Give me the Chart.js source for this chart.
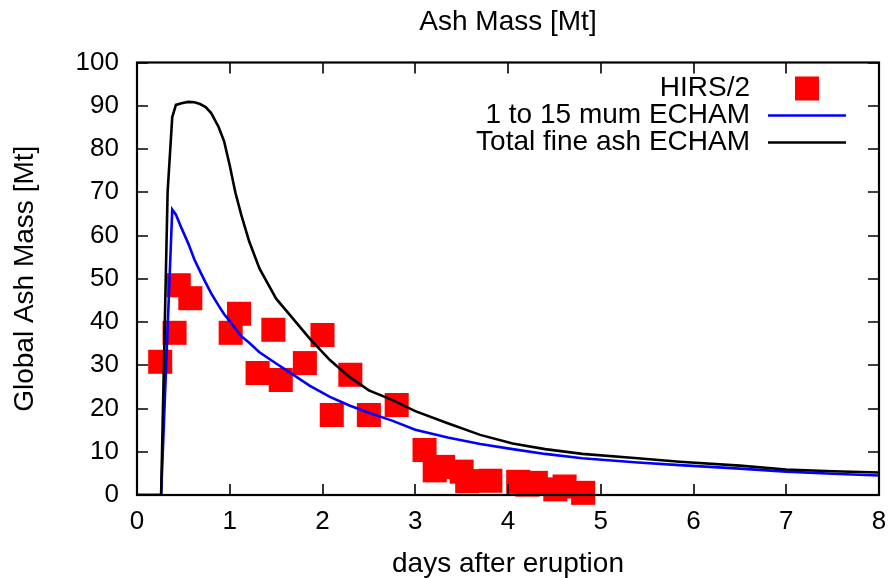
<!DOCTYPE html>
<html>
<head>
<meta charset="utf-8">
<title>Ash Mass</title>
<script src="https://cdn.jsdelivr.net/npm/chart.js@4.4.1/dist/chart.umd.min.js"></script>
<style>
  body { margin: 0; background: #fff; }
  canvas { display: block; }
</style>
</head>
<body>
<canvas id="graficoCinzas" width="891" height="578"></canvas>
<script>
// DADOS
// observações de satélite (HIRS/2)
const hirsDias = [0.25, 0.405, 0.45, 0.575, 1.01, 1.10, 1.30, 1.47, 1.55, 1.81, 2.00, 2.10, 2.30, 2.50, 2.80,
  3.10, 3.21, 3.30, 3.50, 3.56, 3.81, 4.11, 4.21, 4.30, 4.51, 4.61, 4.81];
const hirsMassa = [30.8, 37.5, 48.5, 45.5, 37.5, 41.9, 28.2, 38.2, 26.6, 30.5, 37.0, 18.5, 27.8, 18.5, 20.8,
  10.4, 5.7, 6.5, 5.4, 3.2, 3.3, 3.05, 2.4, 2.8, 1.3, 1.96, 0.5];

// saída do modelo ECHAM
const echamDias = [0, 0.26, 0.3, 0.33, 0.38, 0.42, 0.48, 0.55, 0.62, 0.68, 0.74, 0.8, 0.88, 0.94, 1.0,
  1.06, 1.125, 1.21, 1.32, 1.5, 1.65, 1.86, 2.08, 2.29, 2.5, 2.75, 3.0, 3.35, 3.7, 4.05,
  4.4, 4.8, 5.4, 5.85, 6.5, 7.0, 7.5, 8.0];
const massa1a15 = [0, 0, 22, 38.5, 66, 64.8, 61.7, 58.3, 54.4, 51.7, 49.1, 46.6, 43.8, 41.8, 40.2,
  38.5, 36.7, 35.2, 33.0, 30.4, 28.3, 25.3, 22.7, 20.7, 19.0, 17.2, 15.1, 13.3, 11.8, 10.6,
  9.5, 8.5, 7.5, 6.9, 6.1, 5.4, 4.9, 4.5];
const massaTotalFina = [0, 0, 40, 70, 87.4, 90.2, 90.6, 90.9, 90.8, 90.4, 89.7, 88.3, 85.1, 81.7, 76.2,
  70, 64.7, 58.6, 52.4, 45.4, 41.6, 36.2, 31.2, 27.3, 24.2, 22.0, 19.4, 16.6, 13.9, 11.9,
  10.6, 9.5, 8.5, 7.7, 6.8, 5.9, 5.5, 5.2];

const rotulos = ["HIRS/2", "1 to 15 mum ECHAM", "Total fine ash ECHAM"];
const tituloGrafico = "Ash Mass [Mt]";
const tituloX = "days after eruption";
const tituloY = "Global Ash Mass [Mt]";

const fonte = '"Liberation Sans", Arial, sans-serif';

function pares(xs, ys) {
  return xs.map((x, i) => ({ x, y: ys[i] }));
}

// moldura e marcas de escala para dentro, espelhadas (estilo gnuplot)
const molduraPlugin = {
  id: "moldura",
  afterDatasetsDraw(chart) {
    const { ctx, chartArea: a, scales } = chart;
    const tam = 11;
    ctx.save();
    ctx.strokeStyle = "#000";
    ctx.lineWidth = 1.6;
    ctx.beginPath();
    scales.x.ticks.forEach((t) => {
      const px = Math.round(scales.x.getPixelForValue(t.value));
      ctx.moveTo(px, a.bottom); ctx.lineTo(px, a.bottom - tam);
      ctx.moveTo(px, a.top); ctx.lineTo(px, a.top + tam);
    });
    scales.y.ticks.forEach((t) => {
      const py = Math.round(scales.y.getPixelForValue(t.value));
      ctx.moveTo(a.left, py); ctx.lineTo(a.left + tam, py);
      ctx.moveTo(a.right, py); ctx.lineTo(a.right - tam, py);
    });
    ctx.stroke();
    ctx.lineWidth = 2.2;
    ctx.strokeRect(a.left, a.top, a.right - a.left, a.bottom - a.top);
    ctx.restore();
  }
};

// legenda: texto alinhado à direita e amostra à direita
const legendaPlugin = {
  id: "legendaGnuplot",
  afterDatasetsDraw(chart) {
    const { ctx, chartArea: a } = chart;
    ctx.save();
    ctx.font = "28px " + fonte;
    ctx.textAlign = "right";
    ctx.textBaseline = "middle";
    chart.data.datasets.forEach((ds, i) => {
      const y = a.top + 26 + i * 27;
      ctx.fillStyle = "#000";
      ctx.fillText(ds.label, a.right - 129, y);
      if (ds.showLine) {
        ctx.strokeStyle = ds.borderColor;
        ctx.lineWidth = ds.borderWidth;
        ctx.beginPath();
        ctx.moveTo(a.right - 111, y);
        ctx.lineTo(a.right - 33, y);
        ctx.stroke();
      } else {
        ctx.fillStyle = ds.backgroundColor;
        ctx.fillRect(a.right - 84, y - 12, 24, 24);
      }
    });
    ctx.restore();
  }
};

const grafico = new Chart(document.getElementById("graficoCinzas"), {
  type: "scatter",
  data: {
    datasets: [
      {
        label: rotulos[0],
        data: pares(hirsDias, hirsMassa),
        pointStyle: "rect",
        pointRadius: 17,
        pointBorderWidth: 0,
        backgroundColor: "#ff0000",
        borderColor: "#ff0000",
        showLine: false,
        clip: false,
        order: 3
      },
      {
        label: rotulos[1],
        data: pares(echamDias, massa1a15),
        showLine: true,
        borderColor: "#0000ff",
        borderWidth: 2.6,
        pointRadius: 0,
        tension: 0,
        order: 2
      },
      {
        label: rotulos[2],
        data: pares(echamDias, massaTotalFina),
        showLine: true,
        borderColor: "#000000",
        borderWidth: 2.6,
        pointRadius: 0,
        tension: 0,
        order: 1
      }
    ]
  },
  options: {
    responsive: false,
    animation: false,
    devicePixelRatio: 1,
    color: "#000",
    layout: { autoPadding: false, padding: { left: 0, right: 12, top: 0, bottom: 0 } },
    plugins: {
      legend: { display: false },
      tooltip: { enabled: false },
      title: {
        display: true,
        fullSize: false,
        text: tituloGrafico,
        color: "#000",
        font: { family: fonte, size: 28, weight: "normal", lineHeight: 1 },
        padding: { top: 8, bottom: 26.5 }
      }
    },
    scales: {
      x: {
        type: "linear",
        min: 0,
        max: 8,
        grid: { display: false, drawTicks: false },
        border: { display: false },
        ticks: {
          stepSize: 1,
          color: "#000",
          padding: 0,
          maxRotation: 0,
          // altura de linha maior desce os rótulos sem somar margem lateral
          font: { family: fonte, size: 26, lineHeight: 2.08 }
        },
        title: {
          display: true,
          text: tituloX,
          color: "#000",
          font: { family: fonte, size: 28, lineHeight: 1 },
          padding: { top: 0, bottom: 0 }
        },
        afterFit(escala) { escala.height = 83; }
      },
      y: {
        min: 0,
        max: 100,
        grid: { display: false, drawTicks: false },
        border: { display: false },
        ticks: {
          stepSize: 10,
          color: "#000",
          padding: 18,
          font: { family: fonte, size: 26, lineHeight: 1 }
        },
        title: {
          display: true,
          text: tituloY,
          color: "#000",
          font: { family: fonte, size: 28, lineHeight: 1 },
          padding: { top: 11, bottom: 0 }
        },
        afterFit(escala) { escala.width = 137; }
      }
    }
  },
  plugins: [molduraPlugin, legendaPlugin]
});
</script>
</body>
</html>
